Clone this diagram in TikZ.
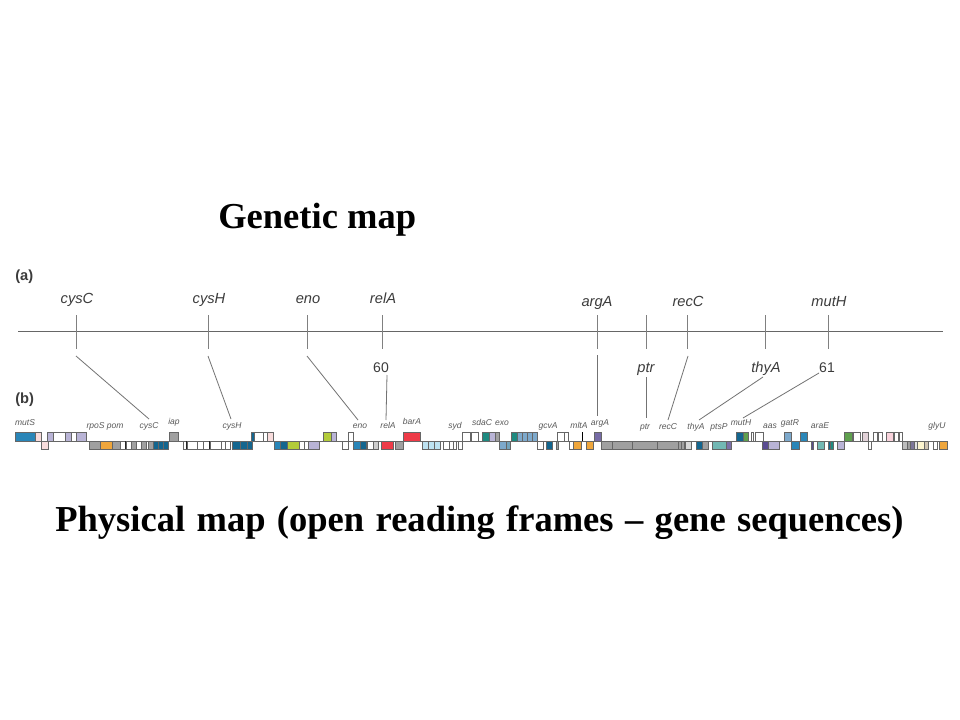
\documentclass[tikz,border=0pt]{standalone}
\usepackage{fontspec}
\setmainfont{Liberation Serif}
\newfontfamily\lsans{Liberation Sans}
\definecolor{gblue}{HTML}{2A86B8}
\definecolor{dblue}{HTML}{14668F}
\definecolor{sblue}{HTML}{7DA9CC}
\definecolor{lblue}{HTML}{BDE3F2}
\definecolor{lav}{HTML}{B9B4D6}
\definecolor{pnk}{HTML}{F8DCDC}
\definecolor{gry}{HTML}{A0A0A0}
\definecolor{orng}{HTML}{EFA63C}
\definecolor{grn}{HTML}{B3CC3A}
\definecolor{redb}{HTML}{EE3B48}
\definecolor{teal1}{HTML}{1E8A80}
\definecolor{teal2}{HTML}{72B8B4}
\definecolor{dpur}{HTML}{5A4C92}
\definecolor{grn2}{HTML}{5FA04E}
\definecolor{crm}{HTML}{FDF5CF}
\definecolor{tan1}{HTML}{CFC4B2}
\definecolor{lpk}{HTML}{E2D2D8}
\definecolor{pk2}{HTML}{F9D3DC}
\definecolor{txtc}{HTML}{3C3C3C}
\tikzset{
  title/.style={font=\fontsize{27.4}{30}\bfseries\selectfont,text=black,inner sep=0pt,anchor=base west},
  biglabel/.style={font=\lsans\fontsize{11}{12}\itshape\selectfont,text=txtc,inner sep=0pt,anchor=base},
  numlabel/.style={font=\lsans\fontsize{10.5}{12}\selectfont,text=txtc,inner sep=0pt,anchor=base},
  smalllabel/.style={font=\lsans\fontsize{6.4}{7}\itshape\selectfont,text=txtc!85,inner sep=0pt,anchor=base},
  panel/.style={font=\lsans\fontsize{11}{12}\bfseries\selectfont,text=txtc,inner sep=0pt,anchor=base west},
  mapline/.style={draw=black!60,line width=0.7pt},
  tick/.style={draw=black!50,line width=0.7pt},
  link/.style={draw=black!55,line width=0.6pt},
  box/.style={draw=black!60,line width=0.45pt}
}
\newcommand{\UpBoxes}[1]{\foreach \a/\b/\c in {#1} {\filldraw[box,fill=\c] (\a,432) rectangle (\b,441);}}
\newcommand{\DownBoxes}[1]{\foreach \a/\b/\c in {#1} {\filldraw[box,fill=\c] (\a,441) rectangle (\b,449);}}
\begin{document}
\begin{tikzpicture}[x=0.75pt,y=-0.75pt]
\useasboundingbox (0,0) rectangle (960,720);
\fill[white] (0,0) rectangle (960,720);
\node[title] (t1) at (218,229) {Genetic map};
\node[title] (t2) at (55,531) {\spaceskip=8.55pt Physical map (open reading frames -- gene sequences)};
\node[panel] (pa) at (15,281) {(a)};
\node[panel] (pb) at (15,403) {(b)};
% genetic map
\coordinate (mL) at (18,331); \coordinate (mR) at (943,331);
\draw[mapline] (mL) -- (mR);
\foreach \n/\x in {cysC/76,cysH/208,eno/307,relA/382,argA/597,ptr/646,recC/687,thyA/765,mutH/828} {
  \coordinate (\n T) at (\x,315); \coordinate (\n B) at (\x,349);
  \draw[tick] (\n T) -- (\n B);
}
\foreach \n/\x/\y in {cysC/77/304,cysH/209/304,eno/308/304,relA/383/304,argA/597/306,recC/688/306,mutH/829/306} {
  \node[biglabel] (L\n) at (\x,\y) {\n};
}
\node[biglabel] (Lptr) at (646,372) {ptr};
\node[biglabel] (LthyA) at (766,372) {thyA};
\node[numlabel] (n60) at (381,372) {60};
\node[numlabel] (n61) at (827,372) {61};
% physical map baseline
\coordinate (bL) at (15,441); \coordinate (bR) at (947,441);
\draw[box] (bL) -- (bR);
% upper
\UpBoxes{15/35/gblue,35/41/pnk,47/53/lav,53/65/white,65/71/lav,71/76/white,76/86/lav,169/178/gry,
 251/254/dblue,254/263/white,263/267/white,267/273/pnk,323/331/grn,331/336/lav,348/353/white,
 403/420/redb,462/470/white,471/478/white,482/489/teal1,489/495/lav,495/499/gry,511/517/teal1,
 517/522/sblue,522/527/sblue,527/532/sblue,532/537/sblue,557/564/white,564/568/white,
 594/601/dpur!70!lav,736/743/dblue,743/748/grn2,751/753/white,755/763/white,784/791/sblue,800/807/gblue,
 844/852/grn2,853/860/white,862/868/lpk,873/877/white,878/882/white,886/893/pk2,893/896/white,
 894/898/white,899/902/white}
% lower
\DownBoxes{41/48/pnk,89/100/gry,100/112/orng,112/120/gry,120/125/white,126/131/white,131/136/gry,
 136/141/white,141/146/gry,146/148/white,148/153/gry,153/158/dblue,158/163/dblue,163/168/dblue,
 183/187/white,187/197/white,197/203/white,203/209/white,210/221/white,221/225/white,225/230/white,
 232/240/dblue,240/247/dblue,247/252/dblue,274/280/gblue,280/287/dblue,287/299/grn,299/304/white,304/308/white,308/319/lav,
 342/348/white,353/360/gblue,360/366/dblue,367/373/white,373/378/gry!50,381/393/redb,395/403/gry,
 422/428/lblue,428/434/lblue,434/440/lblue,443/449/white,449/453/white,453/456/white,458/462/white,
 499/506/sblue,506/510/dblue!60,537/543/white,546/552/dblue,556/558/gry,569/573/white,573/581/orng,
 586/593/orng,601/612/gry,612/632/gry,632/657/gry,657/678/gry,678/681/gry,681/684/gry,685/691/gry!40,
 696/702/dblue,702/708/gry,712/726/teal2,726/731/dpur!80,762/768/dpur,768/779/lav,791/799/gblue,
 811/813/dpur,817/824/teal2,828/830/dblue,830/833/teal1,837/844/lav,868/871/white,902/907/gry!70,
 907/910/gry,910/914/dpur!50!gry,914/917/gry!30,917/924/crm,924/928/tan1,933/937/white,939/947/orng}
\draw[line width=0.8pt,black] (582.5,432) -- (582.5,441);
\draw[line width=0.7pt,black!85] (125.5,441) -- (125.5,449) (209.5,441) -- (209.5,449) (186.5,441) -- (186.5,449);
% connectors
\foreach \n/\ax/\ay/\bx/\by in {a/76/356/149/419,b/208/356/231/419,c/307/356/358/420,d/387/375/386/420,e/597/355/597/416,f/646/377/646/418,g/688/356/668/420,h/763/377/699/420,i/819/373/743/418} {
  \coordinate (c\n A) at (\ax,\ay); \coordinate (c\n B) at (\bx,\by);
  \draw[link] (c\n A) -- (c\n B);
}
% small labels
\foreach \n/\x/\y in {mutS/25/425,cysC/149/428,iap/174/424,cysH/232/428,eno/360/428,relA/388/428,barA/412/424,syd/455/428,sdaC/482/425,exo/502/425,gcvA/548/428,mltA/579/428,argA/600/425,ptr/645/429,recC/668/429,thyA/696/429,ptsP/719/429,mutH/741/425,aas/770/428,gatR/790/425,araE/820/428,glyU/937/428} {
  \node[smalllabel] (s\n) at (\x,\y) {\n};
}
\node[smalllabel] (srp) at (105,428) {rpoS pom};
\end{tikzpicture}
\end{document}
